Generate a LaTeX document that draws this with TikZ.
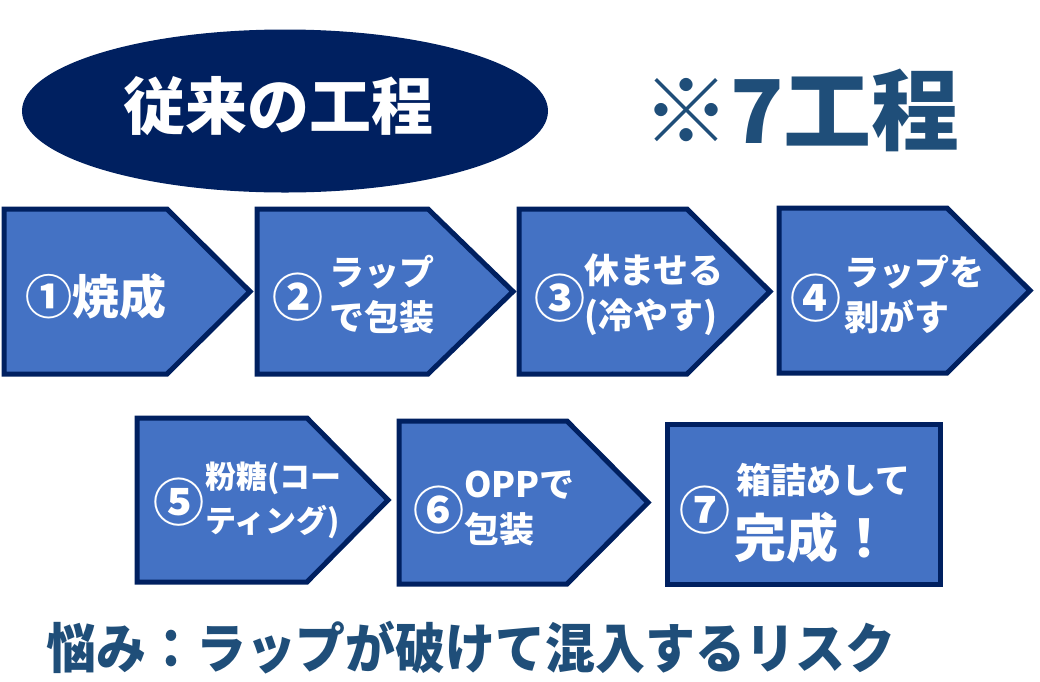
\documentclass[tikz,border=0pt]{standalone}
\usepackage{fontspec}
\setmainfont{Noto Sans CJK JP}
\usetikzlibrary{positioning,shapes.geometric}
\definecolor{navy}{HTML}{002060}
\definecolor{stepblue}{HTML}{4472C4}
\definecolor{slate}{HTML}{1F4E79}
\tikzset{
  stepbox/.style = {draw=navy, line width=5pt, fill=stepblue, line join=miter},
  numtxt/.style  = {text=white, inner sep=0pt, font=\fontsize{51}{51}\selectfont\bfseries},
  steptxt/.style = {text=white, align=left, inner sep=0pt,
                    font=\fontsize{35}{45}\selectfont\bfseries},
}
% name, left, top, bottom, shoulder, tip
\newcommand{\procarrow}[6]{%
  \draw[stepbox] (#2,#3) -- (#5,#3) -- (#6,{(#3+#4)/2}) -- (#5,#4) -- (#2,#4) -- cycle;
  \coordinate (#1) at (#6,{(#3+#4)/2});}

\begin{document}
\begin{tikzpicture}[x=1pt,y=-1pt]
\useasboundingbox (0,0) rectangle (1040,681);

% header
\node[ellipse, fill=navy, inner sep=0pt, minimum width=526, minimum height=163] (head) at (285,111) {};
\node[text=white, font=\fontsize{62}{62}\selectfont\bfseries] (headtxt) at (278,106) {従来の工程};
\node[text=slate, font=\fontsize{88}{88}\selectfont\bfseries] (count) at (801,110) {※7工程};

% first row
\procarrow{p1}{4}{209}{374}{167}{250}
\procarrow{p2}{257}{209}{374}{428}{513}
\procarrow{p3}{519}{209}{374}{687}{770}
\procarrow{p4}{779}{208}{373}{947}{1030}

\node[text=white, inner sep=0pt, font=\fontsize{47}{47}\selectfont\bfseries] (t1) at (96,297) {①焼成};
\node[numtxt] (n2) at (298,297) {②};
\node[steptxt, anchor=west] (t2) at (329,295) {ラップ\\で包装};
\node[numtxt] (n3) at (560,298) {③};
\node[steptxt, anchor=west] (t3) at (584,295) {休ませる\\(冷やす)};
\node[numtxt] (n4) at (816,298) {④};
\node[steptxt, anchor=west] (t4) at (844,295) {ラップを\\剥がす};

% second row
\procarrow{p5}{137}{418}{582}{307}{388}
\procarrow{p6}{399}{421}{584}{567}{648}
\draw[stepbox] (667,424) rectangle (940,584);
\coordinate (p7) at (803,504);

\node[numtxt] (n5) at (179,502) {⑤};
\node[steptxt, anchor=west, font=\fontsize{31}{44}\selectfont\bfseries] (t5) at (205,500) {粉糖(コー\\ティング)};
\node[numtxt] (n6) at (439,510) {⑥};
\node[steptxt, anchor=west] (t6) at (464,508) {OPPで\\包装};
\node[numtxt] (n7) at (705,510) {⑦};
\node[steptxt, anchor=west] (t7a) at (736,480) {箱詰めして};
\node[text=white, anchor=west, inner sep=0pt, font=\fontsize{52}{52}\selectfont\bfseries] (t7b) at (734,538) {完成！};

% concern
\node[text=slate, anchor=west, inner sep=0pt, font=\fontsize{54}{54}\selectfont\bfseries] (risk) at (46,648) {\scalebox{0.925}[1]{悩み：ラップが破けて混入するリスク}};
\end{tikzpicture}
\end{document}
